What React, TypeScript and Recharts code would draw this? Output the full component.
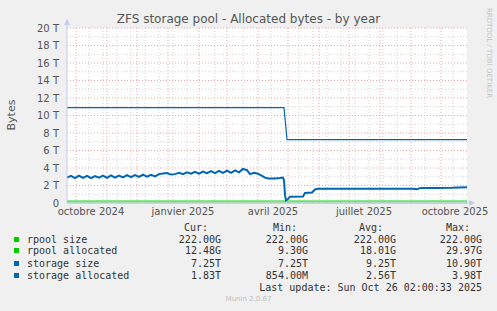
import React from 'react';
import { LineChart, Line, XAxis, YAxis, CartesianGrid, ReferenceLine } from 'recharts';

// x = days since the start of the window (Sept 2024 -> Oct 26 2025), y = terabytes
const allocDays = [
  0, 4, 8, 12, 16, 20, 24, 28, 32, 36, 40, 44, 48, 52, 56, 60, 64, 68, 72, 76, 80, 84, 88, 92,
  96, 100, 104, 108, 112, 116, 120, 124, 128, 132, 136, 140, 144, 148, 152, 156, 160, 164, 168,
  172, 176, 180, 183, 187, 191, 195, 198, 201, 208, 213, 216, 217, 218, 219, 221, 223, 236, 238,
  245, 248, 251, 270, 290, 310, 330, 346, 350, 353, 354, 370, 385, 400,
];
const storageAllocated = [
  2.9, 3.1, 2.85, 3.12, 2.88, 3.1, 2.85, 3.08, 2.9, 3.12, 2.88, 3.15, 2.9, 3.12, 2.92, 3.18, 2.95,
  3.2, 2.98, 3.25, 3.0, 3.22, 3.05, 3.3, 3.38, 3.42, 3.25, 3.3, 3.45, 3.3, 3.5, 3.35, 3.55, 3.35,
  3.6, 3.4, 3.65, 3.42, 3.68, 3.45, 3.7, 3.45, 3.72, 3.5, 3.9, 3.75, 3.3, 3.45, 3.35, 3.1, 2.9,
  2.8, 2.8, 2.85, 2.9, 2.6, 0.9, 0.3, 0.45, 0.72, 0.74, 1.15, 1.2, 1.55, 1.62, 1.63, 1.62, 1.64,
  1.62, 1.63, 1.58, 1.7, 1.72, 1.72, 1.74, 1.8,
];

const sizeDays = [0, 217, 220, 400];
const storageSize = [10.9, 10.9, 7.25, 7.25];

const rpoolDays = [0, 400];
const rpoolSize = [0.222, 0.222];

const rpoolAllocDays = [0, 100, 200, 300, 400];
const rpoolAllocated = [0.03, 0.025, 0.018, 0.01, 0.012];

const yTicks = [0, 2, 4, 6, 8, 10, 12, 14, 16, 18, 20];
const yMinor = [1, 3, 5, 7, 9, 11, 13, 15, 17, 19];
const monthDays = [9, 40, 70, 101, 132, 160, 191, 221, 252, 282, 313, 344, 374];
const minorDays = [22, 36, 50, 64, 78, 92, 106, 120, 148, 176, 204, 232, 246, 260, 274, 288, 302, 316, 330, 358, 386];
const xTicks = [24, 116, 206, 297, 388];
const xLabels = ['octobre 2024', 'janvier 2025', 'avril 2025', 'juillet 2025', 'octobre 2025'];

const legendRows = [
  { name: 'rpool size', color: '#00CC00', cur: '222.00G', min: '222.00G', avg: '222.00G', max: '222.00G' },
  { name: 'rpool allocated', color: '#00CC00', cur: '12.48G', min: '9.30G', avg: '18.01G', max: '29.97G' },
  { name: 'storage size', color: '#0066B3', cur: '7.25T', min: '7.25T', avg: '9.25T', max: '10.90T' },
  { name: 'storage allocated', color: '#0066B3', cur: '1.83T', min: '854.00M', avg: '2.56T', max: '3.98T' },
];

const toPoints = (days: number[], vals: number[]) => days.map((d, i) => ({ day: d, v: vals[i] }));

const mono = '"DejaVu Sans Mono", monospace';
const sans = '"DejaVu Sans", sans-serif';
const W = 497;

const txt = (right: number, top: number, s: string, extra: React.CSSProperties = {}) => (
  <span
    style={{
      position: 'absolute', right: W - right, top, fontFamily: mono, fontSize: 10,
      lineHeight: '12px', color: '#333', whiteSpace: 'pre', ...extra,
    }}
  >
    {s}
  </span>
);

const App = () => {
  const rowY = [234, 245, 258, 270];
  return (
    <div style={{ position: 'absolute', left: 0, top: 0, width: W, height: 311, background: '#F0F0F0', overflow: 'hidden' }}>
      <div style={{ position: 'absolute', left: 0, top: 12, width: W, textAlign: 'center', fontFamily: sans, fontSize: 12, color: '#555' }}>
        ZFS storage pool - Allocated bytes - by year
      </div>
      <div style={{ position: 'absolute', left: 11, top: 115, transform: 'translate(-50%, -50%) rotate(-90deg)', fontFamily: sans, fontSize: 11, color: '#555' }}>
        Bytes
      </div>
      <div style={{ position: 'absolute', left: 489, top: 53, transform: 'translate(-50%, -50%) rotate(90deg)', fontFamily: sans, fontSize: 7, color: '#c4c4c4', whiteSpace: 'nowrap' }}>
        RRDTOOL / TOBI OETIKER
      </div>

      <LineChart width={W} height={311} margin={{ top: 28, right: 30, left: 27, bottom: 88 }} style={{ position: 'absolute', left: 0, top: 0 }}>
        <CartesianGrid fill="#ffffff" horizontal={false} vertical={false} />
        <XAxis
          type="number"
          dataKey="day"
          domain={[0, 400]}
          ticks={xTicks}
          tickFormatter={(v: number) => xLabels[xTicks.indexOf(v)]}
          tickLine={false}
          tickSize={0}
          tickMargin={5}
          height={20}
          axisLine={{ stroke: '#c8c8f0' }}
          tick={{ fontFamily: sans, fontSize: 10, fill: '#555' }}
          allowDataOverflow
        />
        <YAxis
          type="number"
          domain={[0, 20]}
          ticks={yTicks}
          tickFormatter={(v: number) => (v === 0 ? '0' : `${v} T`)}
          tickLine={false}
          tickSize={0}
          tickMargin={8}
          width={40}
          axisLine={{ stroke: '#c8c8f0' }}
          tick={{ fontFamily: sans, fontSize: 10, fill: '#555' }}
          interval={0}
        />
        {yMinor.map((v) => (
          <ReferenceLine key={`ym${v}`} y={v} stroke="#d2d2d2" strokeDasharray="1 2" />
        ))}
        {minorDays.map((d) => (
          <ReferenceLine key={`xm${d}`} x={d} stroke="#d2d2d2" strokeDasharray="1 2" />
        ))}
        {yTicks.filter((v) => v > 0).map((v) => (
          <ReferenceLine key={`yM${v}`} y={v} stroke="#eaa8a8" strokeDasharray="1 2" />
        ))}
        {monthDays.map((d) => (
          <ReferenceLine key={`xM${d}`} x={d} stroke="#eaa8a8" strokeDasharray="1 2" />
        ))}
        <Line data={toPoints(rpoolAllocDays, rpoolAllocated)} dataKey="v" stroke="#00CC00" strokeWidth={1} strokeOpacity={0.6} dot={false} type="linear" isAnimationActive={false} />
        <Line data={toPoints(rpoolDays, rpoolSize)} dataKey="v" stroke="#00CC00" strokeWidth={1} dot={false} type="linear" isAnimationActive={false} />
        <Line data={toPoints(sizeDays, storageSize)} dataKey="v" stroke="#0066B3" strokeWidth={1.2} dot={false} type="linear" isAnimationActive={false} />
        <Line data={toPoints(allocDays, storageAllocated)} dataKey="v" stroke="#0066B3" strokeWidth={2} dot={false} type="linear" isAnimationActive={false} />
      </LineChart>

      <svg width={W} height={311} style={{ position: 'absolute', left: 0, top: 0, pointerEvents: 'none' }}>
        <line x1={67} y1={22} x2={67} y2={28} stroke="#c8c8f0" />
        <polygon points="67,19 64,25 70,25" fill="#c8c8f0" />
        <line x1={467} y1={203} x2={471} y2={203} stroke="#c8c8f0" />
        <polygon points="475,203 469,200 469,206" fill="#c8c8f0" />
      </svg>

      {txt(208, 222, 'Cur:')}
      {txt(297, 222, 'Min:')}
      {txt(383, 222, 'Avg:')}
      {txt(470, 222, 'Max:')}
      {legendRows.map((r, i) => (
        <React.Fragment key={r.name}>
          <div style={{ position: 'absolute', left: 14, top: rowY[i] + 3, width: 5, height: 5, background: r.color }} />
          <span style={{ position: 'absolute', left: 27, top: rowY[i], fontFamily: mono, fontSize: 10, lineHeight: '12px', color: '#333', whiteSpace: 'pre' }}>
            {r.name}
          </span>
          {txt(221, rowY[i], r.cur)}
          {txt(308, rowY[i], r.min)}
          {txt(396, rowY[i], r.avg)}
          {txt(482, rowY[i], r.max)}
        </React.Fragment>
      ))}
      {txt(482, 282, 'Last update: Sun Oct 26 02:00:33 2025')}
      <div style={{ position: 'absolute', left: 0, top: 295, width: W, textAlign: 'center', fontFamily: sans, fontSize: 7, color: '#c0c0c0' }}>
        Munin 2.0.67
      </div>
    </div>
  );
};

export default App;
